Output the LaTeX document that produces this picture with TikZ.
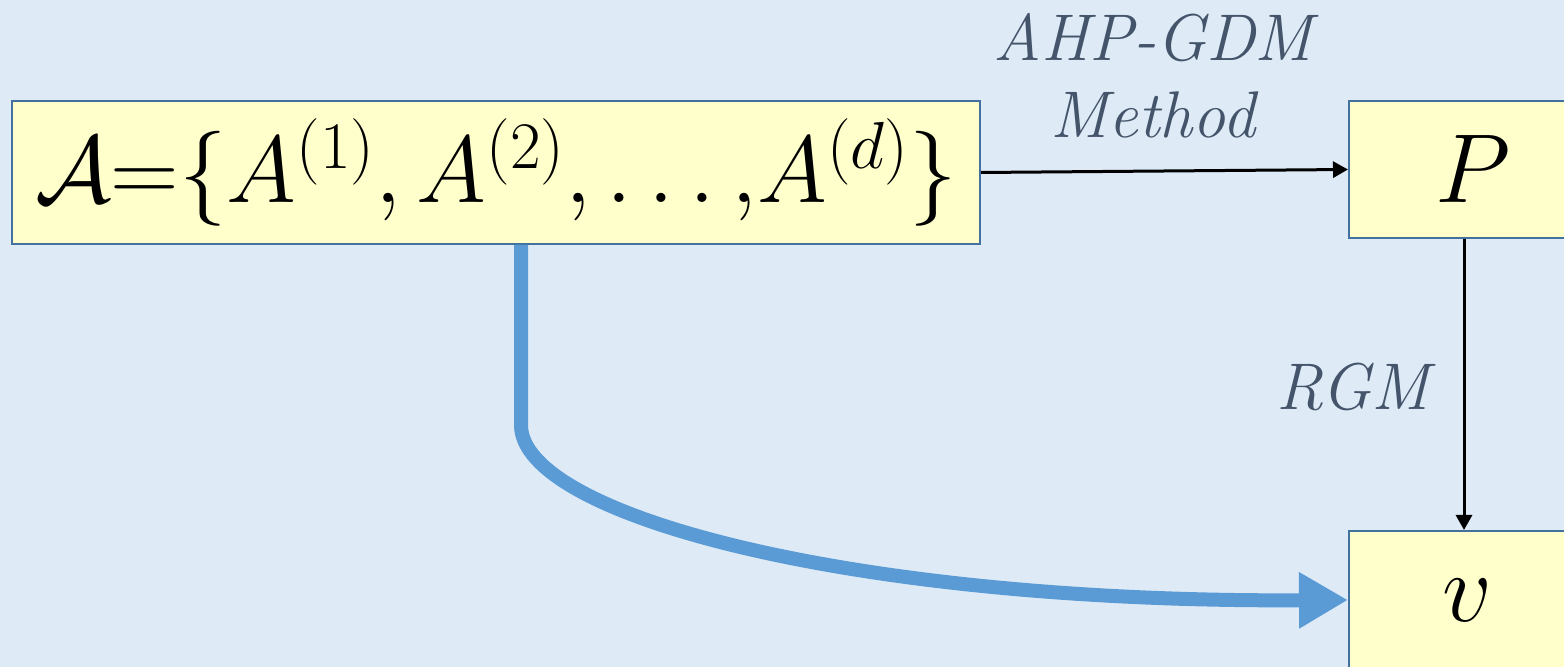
\RequirePackage{fix-cm}
\documentclass[tikz,border=0pt]{standalone}
\usepackage{fontspec}
\usetikzlibrary{arrows.meta}
\definecolor{bg}{HTML}{DEEBF7}
\definecolor{boxfill}{HTML}{FFFFCC}
\definecolor{boxline}{HTML}{41719C}
\definecolor{arrowblue}{HTML}{5B9BD5}
\definecolor{lblc}{HTML}{44546A}
\begin{document}
\begin{tikzpicture}[x=0.5pt,y=-0.5pt,
  box/.style={draw=boxline, fill=boxfill, line width=1pt, inner sep=0pt, font=\fontsize{49}{58}\selectfont},
  lbl/.style={text=lblc, font=\fontsize{33}{38.5}\selectfont\itshape, align=center},
  blk/.style={line width=1.5pt, -{Triangle[length=7.5pt,width=8pt]}},
  big/.style={line width=7pt, draw=arrowblue, -{Triangle[length=24.5pt,width=26.5pt]}}]
\useasboundingbox (0,0) rectangle (1564,667);
\fill[bg] (0,0) rectangle (1564,667);
\clip (0,0) rectangle (1564,667);
\node[box, minimum width=484pt, minimum height=71.5pt, font=\fontsize{47.5}{56}\selectfont] (A) at (496,172.5)
  {$\mathcal{A}{=}\{A^{(1)}, A^{(2)}, \ldots{,}A^{(d)}\}$};
\node[box, minimum width=124pt, minimum height=68.5pt] (P) at (1473,169.5) {$P$};
\node[box, minimum width=118pt, minimum height=69pt] (v) at (1467,600) {$v$};
\node[lbl] (m) at (1153,76) {AHP-GDM\\Method};
\node[lbl] (r) at (1353,387) {RGM};
\coordinate (xr) at (1464,0);
\coordinate (xb) at (521,0);
\coordinate (bend) at (521,425);
\draw[blk] (A.east) -- (P.west);
\draw[blk] (P.south -| xr) -- (v.north -| xr);
\draw[big] (A.south -| xb) -- (bend) .. controls (521,515) and (850,603) .. (v.west);
\end{tikzpicture}
\end{document}
